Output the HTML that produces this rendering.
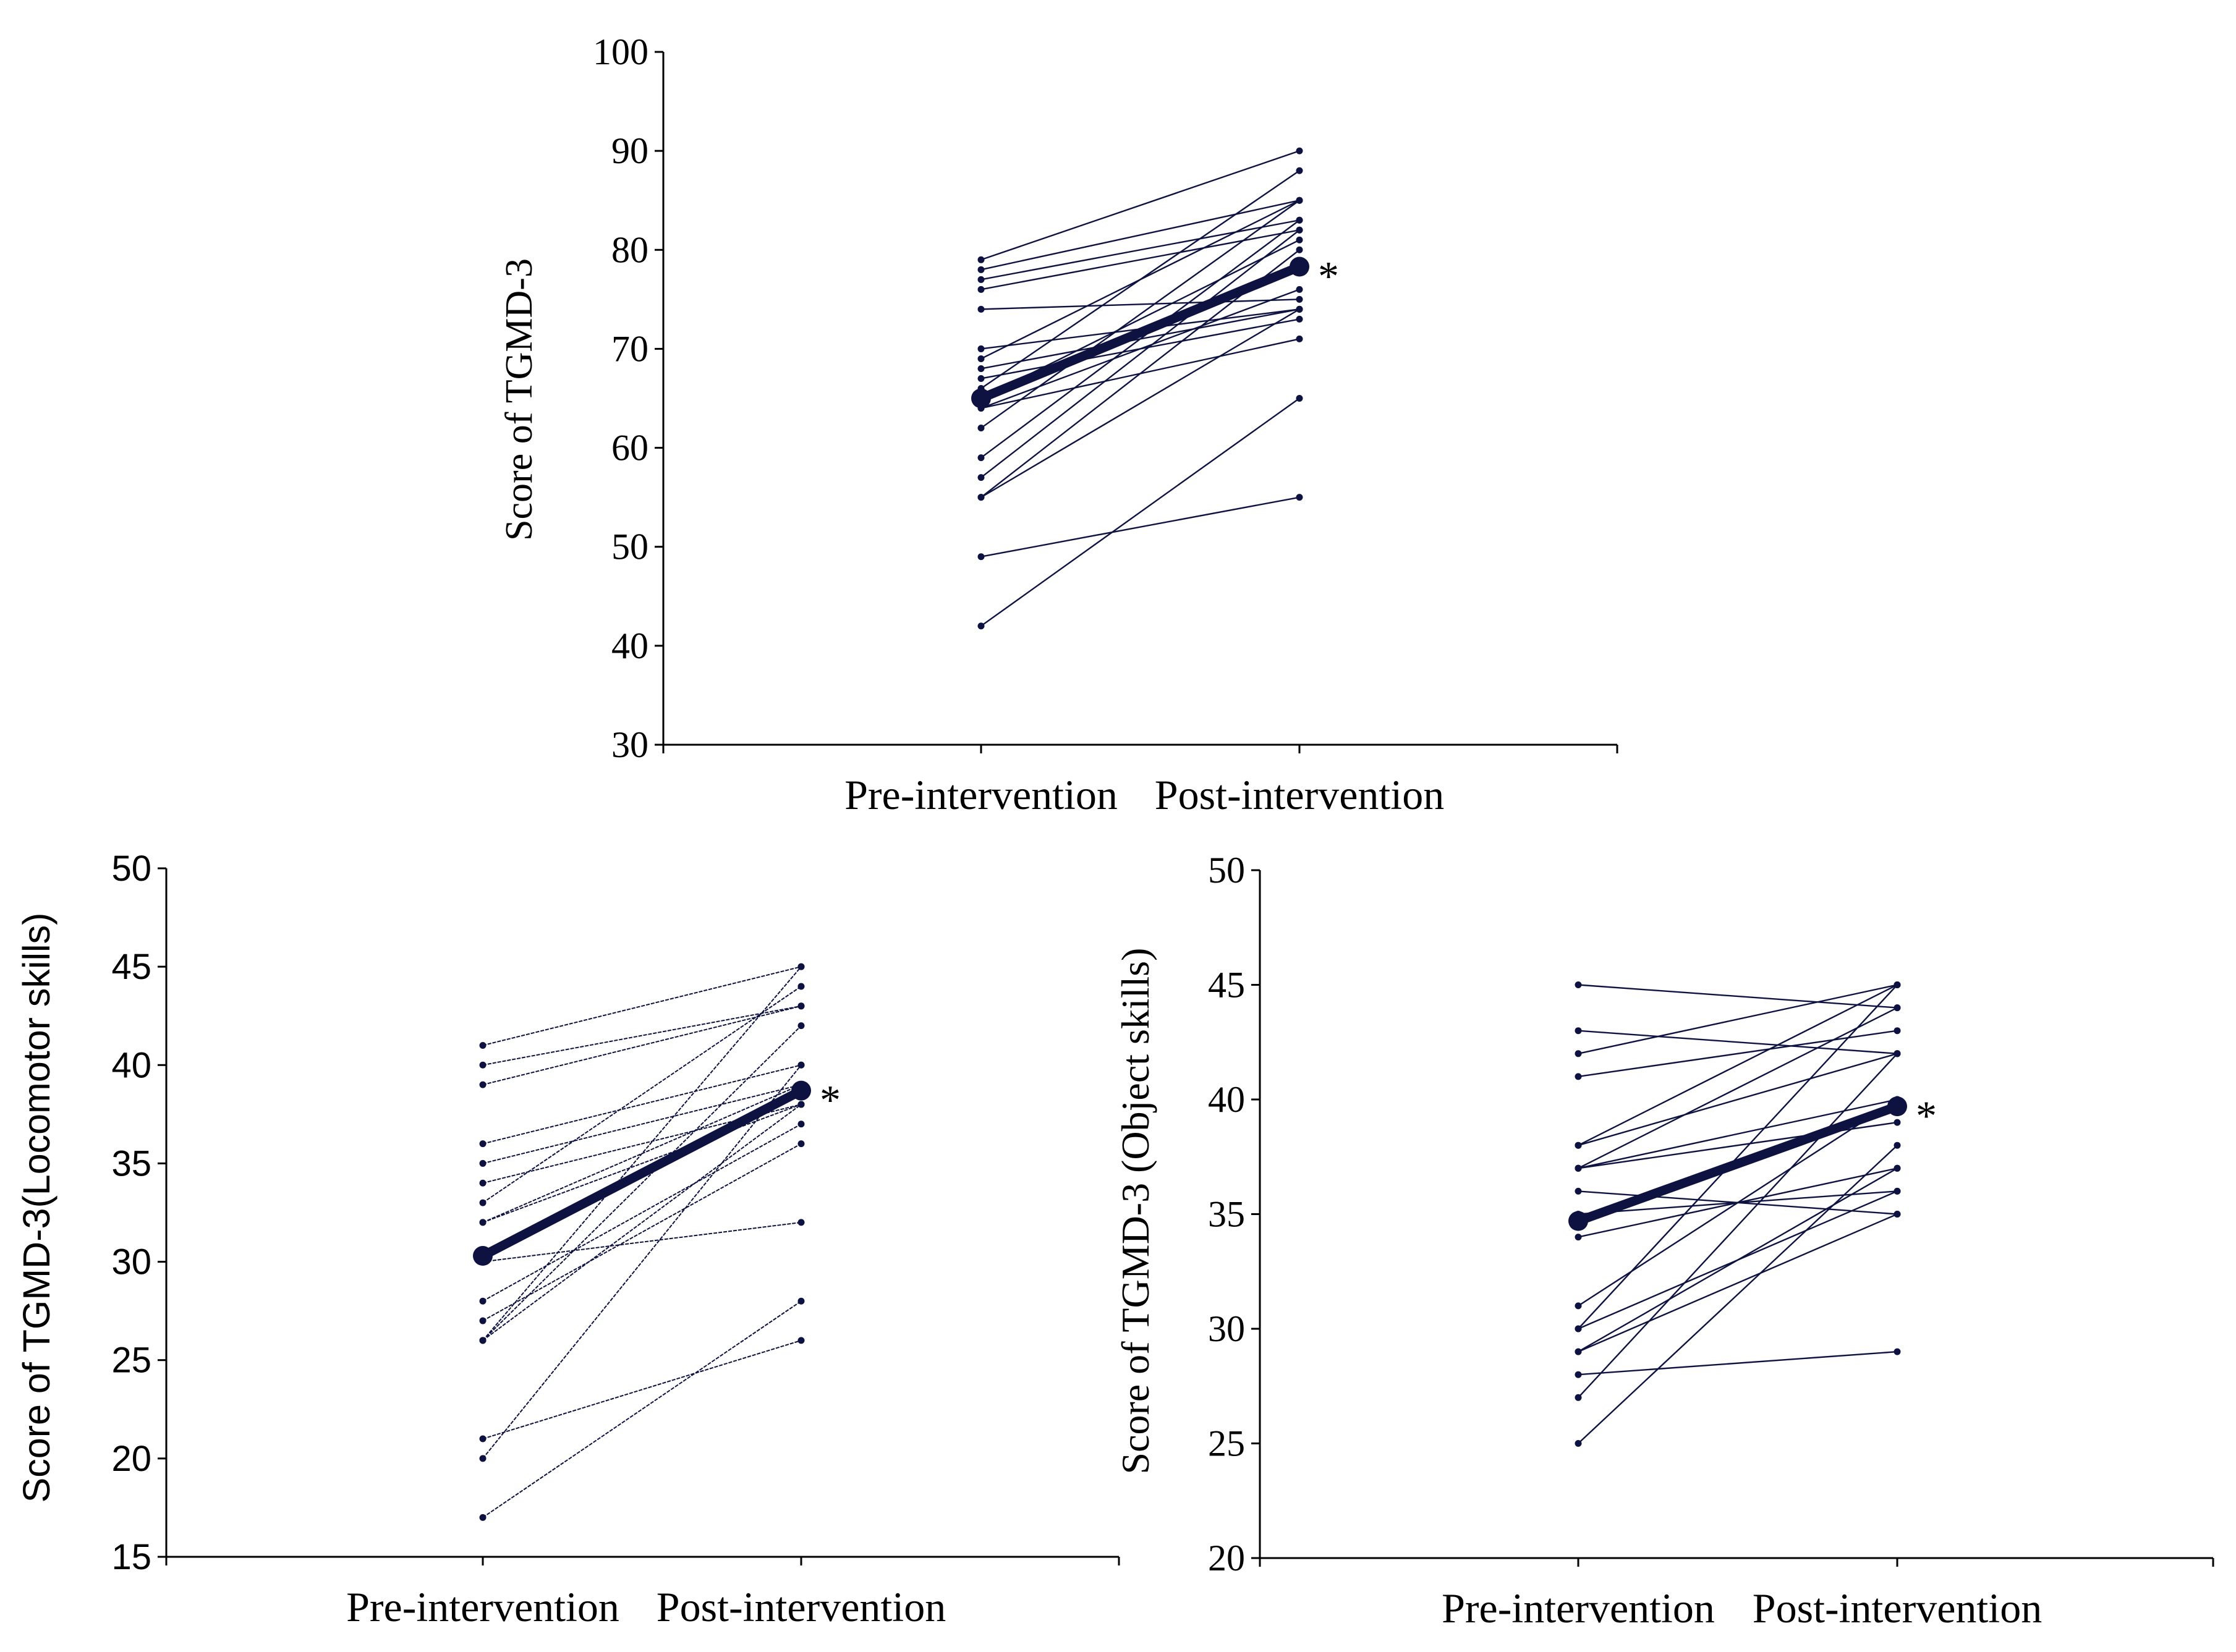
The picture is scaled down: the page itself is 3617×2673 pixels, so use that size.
<!DOCTYPE html>
<html><head><meta charset="utf-8"><style>
html,body{margin:0;padding:0;background:#fff;}
svg{display:block;}
.serif{font-family:"Liberation Serif",serif;}
.sans{font-family:"Liberation Sans",sans-serif;}
</style></head><body>
<svg id="fig" width="3617" height="2673" viewBox="0 0 3617 2673" xmlns="http://www.w3.org/2000/svg"></svg>
<script>
// ---- data ----
const categories = ["Pre-intervention", "Post-intervention"];
// Chart A: total TGMD-3
const totalPre  = [79,78,77,76,74,70,69,68,67,66,65,64,64,62,59,57,55,55,49,42];
const totalPost = [90,85,83,82,75,74,85,74,73,88,81,71,76,85,83,82,80,74,55,65];
const totalMean = [65.0, 78.3];
const totalTicks = [30,40,50,60,70,80,90,100];
// Chart B: locomotor
const locoPre  = [41,40,39,36,35,34,33,32,32,30,28,27,26,26,26,21,20,17];
const locoPost = [45,43,43,40,39,38,44,39,38,32,37,36,45,42,38,26,40,28];
const locoMean = [30.3, 38.7];
const locoTicks = [15,20,25,30,35,40,45,50];
// Chart C: object
const objPre  = [45,43,42,41,38,38,37,37,37,36,35,34,31,30,30,29,29,28,27,25];
const objPost = [44,42,45,43,42,45,40,39,44,35,36,37,40,45,36,37,35,29,42,38];
const objMean = [34.7, 39.7];
const objTicks = [20,25,30,35,40,45,50];

const NS = "http://www.w3.org/2000/svg";
const svg = document.getElementById('fig');
const COL = "#0d1240";
function mk(tag, attrs, parent){
  const e = document.createElementNS(NS, tag);
  for (const k in attrs) e.setAttribute(k, attrs[k]);
  (parent||svg).appendChild(e);
  return e;
}
function chart(cfg){
  const g = mk('g', {});
  
  
  const y = v => cfg.yTop + (cfg.yMax - v) / (cfg.yMax - cfg.yMin) * (cfg.yBot - cfg.yTop);
  const x = i => cfg.cx[i];
  const ya = mk('line', {x1:cfg.ax, y1:cfg.yTop, x2:cfg.ax, y2:cfg.yBot, stroke:'#000','stroke-width':3}, g);
  
  
  const xa = mk('line', {x1:cfg.ax, y1:cfg.yBot, x2:cfg.xEnd, y2:cfg.yBot, stroke:'#000','stroke-width':3}, g);
  
  
  [cfg.ax, x(0), x(1), cfg.xEnd].forEach(px => mk('line', {x1:px, y1:cfg.yBot, x2:px, y2:cfg.yBot+14, stroke:'#000','stroke-width':3}, g));
  cfg.ticks.forEach(t => {
    mk('line', {x1:cfg.ax-14, y1:y(t), x2:cfg.ax, y2:y(t), stroke:'#000','stroke-width':3}, g);
    const tl = mk('text', {x:cfg.ax-24, y:y(t)+20, 'text-anchor':'end', 'font-size':cfg.tickFs, class:cfg.tickFont, fill:'#000'}, g);
    tl.textContent = t;
    
    
  });
  const tt = mk('text', {x:0, y:0, 'text-anchor':'middle', 'font-size':cfg.titleFs, class:cfg.titleFont, fill:'#000', transform:`translate(${cfg.titleX},${(cfg.yTop+cfg.yBot)/2+ (cfg.titleDy||0)}) rotate(-90)`}, g);
  tt.textContent = cfg.title;
  
  
  categories.forEach((c, i) => {
    const cl = mk('text', {x:x(i), y:cfg.yBot+104, 'text-anchor':'middle', 'font-size':68, class:'serif', fill:'#000'}, g);
    cl.textContent = c;
    
    
  });
  cfg.pre.forEach((p, i) => {
    const q = cfg.post[i];
    const ln = mk('line', {x1:x(0), y1:y(p), x2:x(1), y2:y(q), stroke:COL, 'stroke-width':cfg.lw, 'stroke-dasharray':cfg.dash||'none'}, g);
    
    
    mk('circle', {cx:x(0), cy:y(p), r:5.5, fill:COL}, g);
    mk('circle', {cx:x(1), cy:y(q), r:5.5, fill:COL}, g);
  });
  const ml = mk('line', {x1:x(0), y1:y(cfg.mean[0]), x2:x(1), y2:y(cfg.mean[1]), stroke:COL, 'stroke-width':15}, g);
  
  
  cfg.mean.forEach((m, i) => {
    const mc = mk('circle', {cx:x(i), cy:y(m), r:16, fill:COL}, g);
    
    
  });
  const st = mk('text', {x:x(1)+30, y:y(cfg.mean[1])+38, 'font-size':68, class:'serif', fill:'#000'}, g);
  st.textContent = '*';
  
  
}
chart({name:'total-score-chart', ax:1073, xEnd:2616, cx:[1587,2102], yTop:84, yBot:1205, yMin:30, yMax:100,
  ticks:totalTicks, pre:totalPre, post:totalPost, mean:totalMean, tickFs:60, tickFont:'serif',
  title:'Score of TGMD-3', titleFs:62, titleFont:'serif', titleX:860, titleDy:2, lw:2.4});
chart({name:'locomotor-chart', ax:269, xEnd:1810, cx:[781,1296], yTop:1405, yBot:2519, yMin:15, yMax:50,
  ticks:locoTicks, pre:locoPre, post:locoPost, mean:locoMean, tickFs:58, tickFont:'sans',
  title:'Score of TGMD-3(Locomotor skills)', titleFs:61, titleFont:'sans', titleX:80, titleDy:-8, lw:2, dash:'6 2'});
chart({name:'object-skills-chart', ax:2038, xEnd:3580, cx:[2553,3069], yTop:1408, yBot:2521, yMin:20, yMax:50,
  ticks:objTicks, pre:objPre, post:objPost, mean:objMean, tickFs:60, tickFont:'serif',
  title:'Score of TGMD-3 (Object skills)', titleFs:64, titleFont:'serif', titleX:1858, titleDy:-5, lw:2.4});
</script>
</body></html>
